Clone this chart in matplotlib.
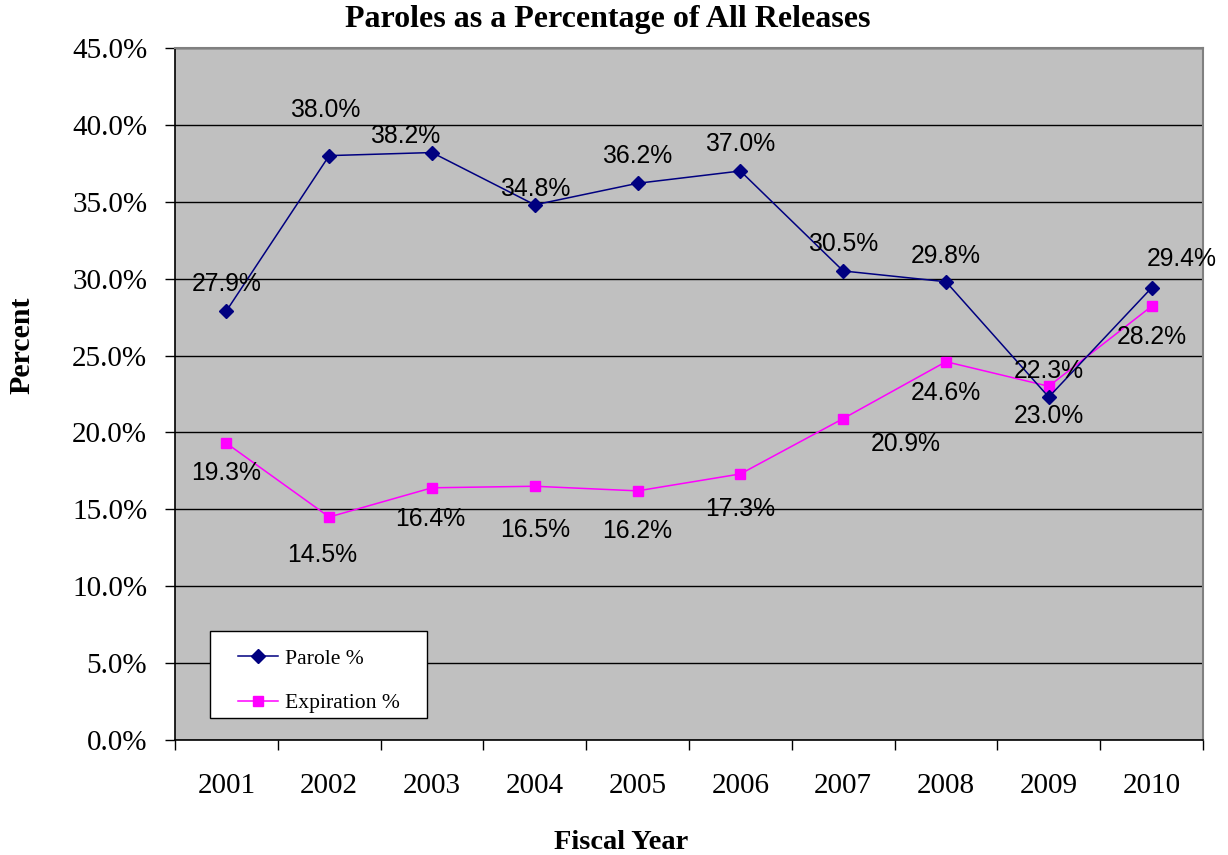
import matplotlib.pyplot as plt
from matplotlib.patches import Rectangle
from matplotlib.ticker import FuncFormatter, MultipleLocator

years = ['2001', '2002', '2003', '2004', '2005', '2006', '2007', '2008', '2009', '2010']
parole = [27.9, 38.0, 38.2, 34.8, 36.2, 37.0, 30.5, 29.8, 22.3, 29.4]
expiration = [19.3, 14.5, 16.4, 16.5, 16.2, 17.3, 20.9, 24.6, 23.0, 28.2]

# label offsets in pixels (dx, dy), placed by hand like the original
parole_off = [(0, 27), (-4, 46), (-27, 17), (0, 16), (0, 27), (0, 27),
              (0, 27), (0, 26), (0, 26), (30, 29)]
expir_off = [(0, -30), (-7, -38), (-2, -31), (0, -44), (0, -40), (0, -35),
             (63, -25), (0, -31), (0, -30), (0, -31)]

SERIF = 'Liberation Serif'
SANS = 'Liberation Sans'


def plot_lines(ax):
    x = list(range(len(years)))
    ax.plot(x, parole, color='#000080', lw=1.1, marker='D', ms=7,
            label='Parole %', zorder=4)
    ax.plot(x, expiration, color='#FF00FF', lw=1.1, marker='s', ms=7.5,
            label='Expiration %', zorder=3)

    px = 72 / 100
    for xs, ys, offs in ((x, parole, parole_off), (x, expiration, expir_off)):
        for xi, yi, (dx, dy) in zip(xs, ys, offs):
            ax.annotate(f'{yi:.1f}%', (xi, yi), xytext=(dx * px, dy * px),
                        textcoords='offset points', ha='center', va='center',
                        fontsize=17.8, family=SANS, color='black', zorder=5,
                        annotation_clip=False)

    # axes
    ax.set_facecolor('#C0C0C0')
    ax.set_xlim(-0.5, len(years) - 0.5)
    ax.set_ylim(0, 45)
    ax.yaxis.set_major_locator(MultipleLocator(5))
    ax.yaxis.set_major_formatter(FuncFormatter(lambda v, p: f'{v:.1f}%'))
    ax.grid(axis='y', color='black', lw=1.0)
    ax.set_axisbelow(True)

    ax.set_xticks([i - 0.5 for i in range(len(years) + 1)])
    ax.set_xticklabels([])
    ax.set_xticks(x, minor=True)
    ax.set_xticklabels(years, minor=True)
    ax.tick_params(axis='x', which='major', direction='out', length=7, width=1)
    ax.tick_params(axis='x', which='minor', length=0, pad=24)
    ax.tick_params(axis='y', direction='out', length=7, width=1, pad=13)
    for lab in ax.get_xticklabels(minor=True) + ax.get_yticklabels():
        lab.set_fontfamily(SERIF)
        lab.set_fontsize(21)

    for side in ('top', 'right'):
        ax.spines[side].set_color('#808080')
        ax.spines[side].set_linewidth(1.5)
    for side in ('left', 'bottom'):
        ax.spines[side].set_color('black')
        ax.spines[side].set_linewidth(1.2)

    # legend: white box drawn by hand, entries placed inside it
    ax.add_patch(Rectangle((0.034, 0.032), 0.211, 0.126, transform=ax.transAxes,
                           facecolor='white', edgecolor='black', lw=1.0,
                           zorder=5.5))
    leg = ax.legend(loc='upper left', bbox_to_anchor=(0.0613, 0.132),
                    prop={'family': SERIF, 'size': 15.6}, frameon=False,
                    handlelength=1.85, labelspacing=1.12, borderpad=0,
                    handletextpad=0.3, borderaxespad=0)
    leg.set_zorder(6)


def plot():
    fig = plt.figure(figsize=(12.28, 8.55), dpi=100)
    ax = fig.add_axes([0.1425, 0.1345, 0.8371, 0.8094])
    plot_lines(ax)

    fig.text(608 / 1228, 1 - 20 / 855, 'Paroles as a Percentage of All Releases',
             family=SERIF, fontsize=23, fontweight='bold', ha='center', va='center')
    fig.text(22 / 1228, 1 - 345 / 855, 'Percent', family=SERIF, fontsize=21.5,
             fontweight='bold', rotation=90, ha='center', va='center')
    fig.text(621 / 1228, 1 - 842 / 855, 'Fiscal Year', family=SERIF, fontsize=20.5,
             fontweight='bold', ha='center', va='center')

    fig.savefig('out.png', dpi=100)


if __name__ == '__main__':
    plot()
